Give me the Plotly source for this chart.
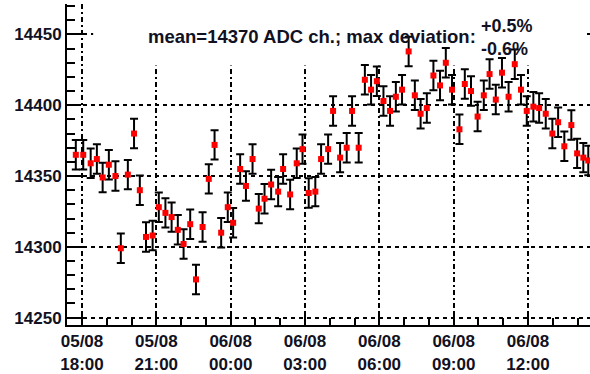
import plotly.graph_objects as go

# ---- data ----
times = ["17:45", "18:03", "18:21", "18:36", "18:50", "19:05", "19:21", "19:34", "19:51", "20:06",
         "20:20", "20:35", "20:51", "21:06", "21:22", "21:37", "21:52", "22:06", "22:22", "22:36",
         "22:52", "23:07", "23:21", "23:37", "23:53", "00:06", "00:23", "00:37", "00:53", "01:08",
         "01:22", "01:38", "01:55", "02:07", "02:24", "02:40", "02:54", "03:09", "03:25", "03:39",
         "03:56", "04:08", "04:25", "04:41", "04:54", "05:10", "05:25", "05:40", "05:54", "06:10",
         "06:26", "06:40", "06:55", "07:11", "07:26", "07:40", "07:55", "08:11", "08:27", "08:41",
         "08:56", "09:14", "09:27", "09:42", "09:58", "10:13", "10:27", "10:42", "10:57", "11:13",
         "11:28", "11:43", "11:57", "12:13", "12:27", "12:43", "12:59", "13:13", "13:28", "13:45",
         "13:59", "14:14", "14:26"]
adc = [14365, 14365, 14359, 14362, 14349, 14358, 14350, 14299, 14351, 14380,
       14340, 14307, 14308, 14328, 14324, 14321, 14312, 14302, 14316, 14277,
       14314, 14348, 14372, 14310, 14328, 14317, 14355, 14343, 14362, 14327,
       14334, 14344, 14339, 14355, 14337, 14359, 14369, 14338, 14339, 14362,
       14369, 14396, 14363, 14370, 14396, 14370, 14418, 14411, 14417, 14403,
       14396, 14406, 14411, 14438, 14407, 14394, 14398, 14421, 14414, 14430,
       14411, 14383, 14415, 14410, 14392, 14407, 14422, 14404, 14423, 14406,
       14429, 14411, 14396, 14399, 14398, 14394, 14380, 14388, 14371, 14386,
       14366, 14363, 14361]
ERR = 10.4
day1, day2 = "2011-08-05", "2011-08-06"
x_range = ["2011-08-05 17:23:40", "2011-08-06 14:30:10"]
y_range = [14244.8, 14471.5]
ytick_major = 50
ytick_minor = 10
main_text = "mean=14370 ADC ch.; max deviation:"
dev_plus = "+0.5%"
dev_minus = "-0.6%"
# extent of the white text pave (in axis units)
pave_x = ["2011-08-05 18:27", "2011-08-06 14:18"]
pave_y = [14428, 14471.5]

# build datetimes (day rolls over at midnight)
xs = []
day = day1
prev_h = -1
for t in times:
    h = int(t.split(":")[0])
    if h < prev_h:
        day = day2
    prev_h = h
    xs.append(f"{day} {t}")

FONT = "Liberation Sans, Arial, sans-serif"
TXT = "#111122"

fig = go.Figure()
fig.add_trace(go.Scatter(
    x=xs, y=adc, mode="markers",
    marker=dict(symbol="square", size=6, color="#ff0000"),
    error_y=dict(type="constant", value=ERR, thickness=2, width=4, color="black"),
    showlegend=False,
))

fig.update_layout(
    width=590, height=374,
    margin=dict(l=67, r=0, t=4, b=43, pad=0),
    paper_bgcolor="white", plot_bgcolor="white",
    xaxis=dict(
        type="date", range=x_range,
        tick0="2011-08-05 18:00", dtick=3 * 3600000,
        tickformat="%d/%m<br>%H:%M",
        ticks="inside", ticklen=12, tickwidth=1.5, tickcolor="black",
        showline=True, linewidth=2, linecolor="black",
        showgrid=True, gridcolor="black", gridwidth=1.5, griddash="5px,3px,2px,3px",
        minor=dict(dtick=3600000, tick0="2011-08-05 18:00", ticks="inside", ticklen=7,
                   tickwidth=1.5, tickcolor="black", showgrid=False),
        tickfont=dict(family=FONT, size=17, color=TXT, weight="bold"),
        zeroline=False,
    ),
    xaxis2=dict(
        type="date", range=x_range, overlaying="x", side="top",
        tick0="2011-08-05 18:00", dtick=3 * 3600000,
        ticks="inside", ticklen=5, tickwidth=1.5, tickcolor="black",
        showline=True, linewidth=2, linecolor="black",
        showticklabels=False, showgrid=False, zeroline=False,
    ),
    yaxis=dict(
        range=y_range, tick0=14250, dtick=ytick_major, tickformat="d",
        ticks="inside", ticklen=14, tickwidth=1.5, tickcolor="black",
        showline=True, linewidth=2, linecolor="black",
        showgrid=True, gridcolor="black", gridwidth=1.5, griddash="4px,4px",
        minor=dict(dtick=ytick_minor, ticks="inside", ticklen=8, tickwidth=1.5,
                   tickcolor="black", showgrid=False),
        tickfont=dict(family=FONT, size=17, color=TXT, weight="bold"),
        zeroline=False,
    ),
)

# white pave behind the text (above the grid, below the markers)
fig.add_shape(type="rect", xref="x", yref="y",
              x0=pave_x[0], x1=pave_x[1], y0=pave_y[0], y1=pave_y[1],
              fillcolor="white", line=dict(width=0), layer="between")

afont = dict(family=FONT, size=18.5, color=TXT, weight="bold")
fig.add_annotation(text=main_text, xref="paper", yref="paper", x=0.152, y=0.898,
                   xanchor="left", yanchor="middle", showarrow=False, font=afont)
fig.add_annotation(text=f"{dev_plus}<br>{dev_minus}", xref="paper", yref="paper",
                   x=0.788, y=0.896, xanchor="left", yanchor="middle", align="left",
                   showarrow=False, font=dict(family=FONT, size=18, color=TXT, weight="bold"))

fig.write_html("out.html")
